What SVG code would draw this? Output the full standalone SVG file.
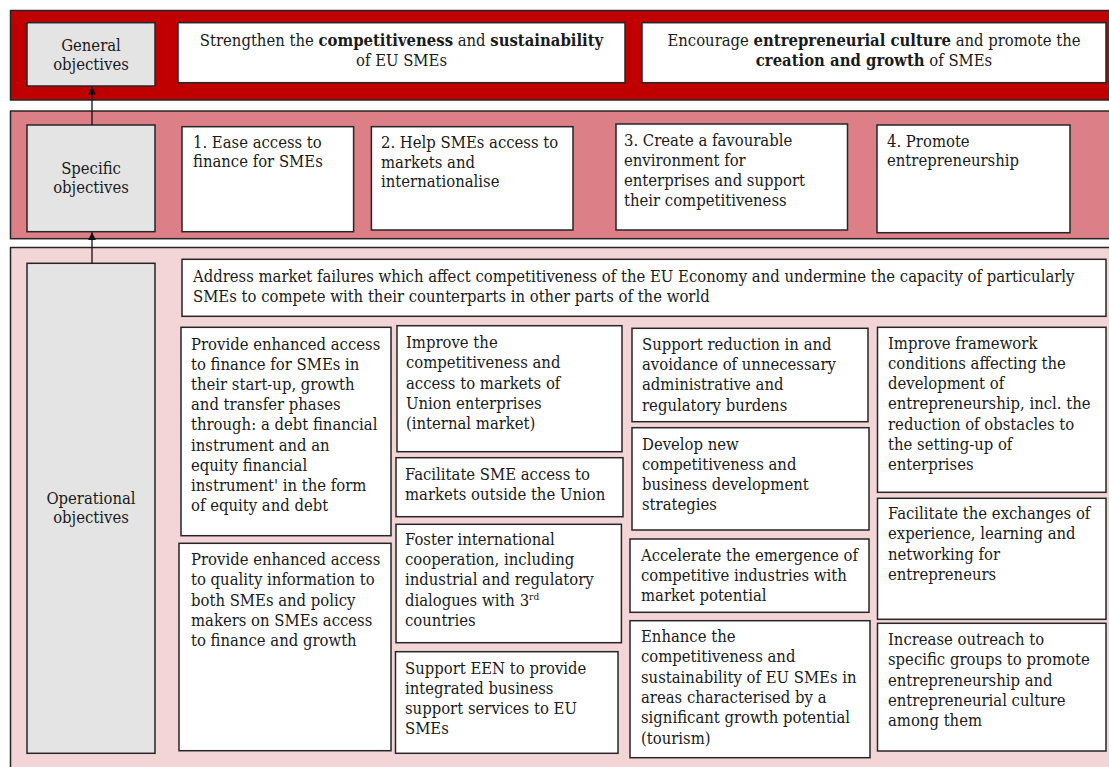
<svg xmlns="http://www.w3.org/2000/svg" width="1109" height="767" viewBox="0 0 1109 767">
<style>
.band{stroke:#262626;stroke-width:1.5}
.b1{fill:#C00000}
.b2{fill:#DC7F86}
.b3{fill:#F3D4D7}
.lab{fill:#E4E4E4;stroke:#262626;stroke-width:1.5}
.box{fill:#FFFFFF;stroke:#262626;stroke-width:1.5}
text{font-family:"DejaVu Serif Condensed","DejaVu Serif","Liberation Serif",serif;font-stretch:condensed;font-size:16.5px;fill:#1a1a1a}
.c{text-anchor:middle}
.bd{font-weight:bold}
.sup{font-size:10px}
.conn{stroke:#111;stroke-width:1.3;fill:none}
</style>
<defs>
<marker id="arr" viewBox="0 0 10 10" refX="10" refY="5" markerWidth="8" markerHeight="8" markerUnits="userSpaceOnUse" orient="auto">
<path d="M0,0 L10,5 L0,10 Z" fill="#111"/>
</marker>
</defs>
<g id="bands">
<rect class="band b1" x="10.5" y="10.5" width="1110" height="89.5"/>
<rect class="band b2" x="10.5" y="111" width="1110" height="127.7"/>
<rect class="band b3" x="10.5" y="247.5" width="1110" height="540"/>
</g>
<g id="general-label">
<rect class="lab" x="27" y="22.7" width="128" height="63.3"/>
<text class="c" x="91" y="51">General</text>
<text class="c" x="91" y="70">objectives</text>
</g>
<g id="general-1">
<rect class="box" x="178" y="22.7" width="447" height="60"/>
<text class="c" x="401.5" y="46">Strengthen the <tspan class="bd">competitiveness</tspan> and <tspan class="bd">sustainability</tspan></text>
<text class="c" x="401.5" y="66">of EU SMEs</text>
</g>
<g id="general-2">
<rect class="box" x="642" y="22.7" width="464" height="60"/>
<text class="c" x="874" y="46">Encourage <tspan class="bd">entrepreneurial culture</tspan> and promote the</text>
<text class="c" x="874" y="66"><tspan class="bd">creation and growth</tspan> of SMEs</text>
</g>
<g id="specific-label">
<rect class="lab" x="27" y="125" width="128" height="106.7"/>
<text class="c" x="91" y="174">Specific</text>
<text class="c" x="91" y="193">objectives</text>
</g>
<g id="specific-1">
<rect class="box" x="182" y="126.7" width="171.6" height="105"/>
<text x="193" y="148"><tspan x="193">1. Ease access to</tspan><tspan x="193" dy="19">finance for SMEs</tspan></text>
</g>
<g id="specific-2">
<rect class="box" x="371.4" y="126.7" width="201.6" height="103.3"/>
<text x="381" y="148"><tspan x="381">2. Help SMEs access to</tspan><tspan x="381" dy="19.5">markets and</tspan><tspan x="381" dy="19.5">internationalise</tspan></text>
</g>
<g id="specific-3">
<rect class="box" x="616" y="124" width="231.5" height="106"/>
<text x="624" y="145.5"><tspan x="624">3. Create a favourable</tspan><tspan x="624" dy="20">environment for</tspan><tspan x="624" dy="20">enterprises and support</tspan><tspan x="624" dy="20">their competitiveness</tspan></text>
</g>
<g id="specific-4">
<rect class="box" x="877" y="125" width="193" height="107.7"/>
<text x="887" y="146.5"><tspan x="887">4. Promote</tspan><tspan x="887" dy="19">entrepreneurship</tspan></text>
</g>
<g id="operational-label">
<rect class="lab" x="27" y="263.3" width="128" height="490"/>
<text class="c" x="91" y="504">Operational</text>
<text class="c" x="91" y="523">objectives</text>
</g>
<g id="op-address">
<rect class="box" x="182" y="259.3" width="924" height="57"/>
<text x="193" y="282"><tspan x="193">Address market failures which affect competitiveness of the EU Economy and undermine the capacity of particularly</tspan><tspan x="193" dy="20">SMEs to compete with their counterparts in other parts of the world</tspan></text>
</g>
<g id="op-finance-1">
<rect class="box" x="181" y="327.3" width="210" height="208.4"/>
<text x="191" y="349.5"><tspan x="191">Provide enhanced access</tspan><tspan x="191" dy="20.2">to finance for SMEs in</tspan><tspan x="191" dy="20.2">their start-up, growth</tspan><tspan x="191" dy="20.2">and transfer phases</tspan><tspan x="191" dy="20.2">through: a debt financial</tspan><tspan x="191" dy="20.2">instrument and an</tspan><tspan x="191" dy="20.2">equity financial</tspan><tspan x="191" dy="20.2">instrument' in the form</tspan><tspan x="191" dy="20.2">of equity and debt</tspan></text>
</g>
<g id="op-finance-2">
<rect class="box" x="179" y="543.3" width="212" height="207.4"/>
<text x="191" y="565"><tspan x="191">Provide enhanced access</tspan><tspan x="191" dy="20.3">to quality information to</tspan><tspan x="191" dy="20.3">both SMEs and policy</tspan><tspan x="191" dy="20.3">makers on SMEs access</tspan><tspan x="191" dy="20.3">to finance and growth</tspan></text>
</g>
<g id="op-markets-1">
<rect class="box" x="397" y="325.7" width="225" height="126"/>
<text x="406" y="348"><tspan x="406">Improve the</tspan><tspan x="406" dy="20.3">competitiveness and</tspan><tspan x="406" dy="20.3">access to markets of</tspan><tspan x="406" dy="20.3">Union enterprises</tspan><tspan x="406" dy="20.3">(internal market)</tspan></text>
</g>
<g id="op-markets-2">
<rect class="box" x="396" y="457.7" width="227" height="59"/>
<text x="405" y="480"><tspan x="405">Facilitate SME access to</tspan><tspan x="405" dy="19.5">markets outside the Union</tspan></text>
</g>
<g id="op-markets-3">
<rect class="box" x="396" y="524.3" width="225.4" height="118.4"/>
<text x="405" y="545"><tspan x="405">Foster international</tspan><tspan x="405" dy="20.2">cooperation, including</tspan><tspan x="405" dy="20.2">industrial and regulatory</tspan><tspan x="405" dy="20.2">dialogues with 3<tspan class="sup" dy="-6">rd</tspan></tspan><tspan x="405" dy="26.2">countries</tspan></text>
</g>
<g id="op-markets-4">
<rect class="box" x="395.5" y="651.7" width="222.5" height="101.6"/>
<text x="405" y="673.5"><tspan x="405">Support EEN to provide</tspan><tspan x="405" dy="20">integrated business</tspan><tspan x="405" dy="20">support services to EU</tspan><tspan x="405" dy="20">SMEs</tspan></text>
</g>
<g id="op-env-1">
<rect class="box" x="632" y="328.3" width="236" height="93.4"/>
<text x="642" y="350"><tspan x="642">Support reduction in and</tspan><tspan x="642" dy="20.2">avoidance of unnecessary</tspan><tspan x="642" dy="20.2">administrative and</tspan><tspan x="642" dy="20.2">regulatory burdens</tspan></text>
</g>
<g id="op-env-2">
<rect class="box" x="632" y="427.7" width="237" height="102.3"/>
<text x="642" y="449.5"><tspan x="642">Develop new</tspan><tspan x="642" dy="20.2">competitiveness and</tspan><tspan x="642" dy="20.2">business development</tspan><tspan x="642" dy="20.2">strategies</tspan></text>
</g>
<g id="op-env-3">
<rect class="box" x="630" y="539" width="239" height="73.3"/>
<text x="641" y="560.5"><tspan x="641">Accelerate  the emergence of</tspan><tspan x="641" dy="20">competitive industries with</tspan><tspan x="641" dy="20">market potential</tspan></text>
</g>
<g id="op-env-4">
<rect class="box" x="630" y="620.7" width="240" height="137"/>
<text x="641" y="642"><tspan x="641">Enhance the</tspan><tspan x="641" dy="20.3">competitiveness and</tspan><tspan x="641" dy="20.3">sustainability of EU SMEs in</tspan><tspan x="641" dy="20.3">areas characterised by a</tspan><tspan x="641" dy="20.3">significant growth potential</tspan><tspan x="641" dy="20.3">(tourism)</tspan></text>
</g>
<g id="op-entre-1">
<rect class="box" x="877.5" y="327.3" width="228.5" height="165"/>
<text x="888" y="348.5"><tspan x="888">Improve framework</tspan><tspan x="888" dy="20.3">conditions affecting the</tspan><tspan x="888" dy="20.3">development of</tspan><tspan x="888" dy="20.3">entrepreneurship, incl. the</tspan><tspan x="888" dy="20.3">reduction of obstacles to</tspan><tspan x="888" dy="20.3">the setting-up of</tspan><tspan x="888" dy="20.3">enterprises</tspan></text>
</g>
<g id="op-entre-2">
<rect class="box" x="877.5" y="498.3" width="228.5" height="121"/>
<text x="888" y="519"><tspan x="888">Facilitate the exchanges of</tspan><tspan x="888" dy="20.3">experience, learning and</tspan><tspan x="888" dy="20.3">networking for</tspan><tspan x="888" dy="20.3">entrepreneurs</tspan></text>
</g>
<g id="op-entre-3">
<rect class="box" x="877.5" y="623.3" width="228.5" height="127.7"/>
<text x="888" y="645"><tspan x="888">Increase outreach to</tspan><tspan x="888" dy="20.3">specific groups to promote</tspan><tspan x="888" dy="20.3">entrepreneurship and</tspan><tspan x="888" dy="20.3">entrepreneurial culture</tspan><tspan x="888" dy="20.3">among them</tspan></text>
</g>
<g id="connectors">
<line class="conn" x1="92" y1="125" x2="92" y2="86.5" marker-end="url(#arr)"/>
<line class="conn" x1="92" y1="263.3" x2="92" y2="232.2" marker-end="url(#arr)"/>
</g>
</svg>
